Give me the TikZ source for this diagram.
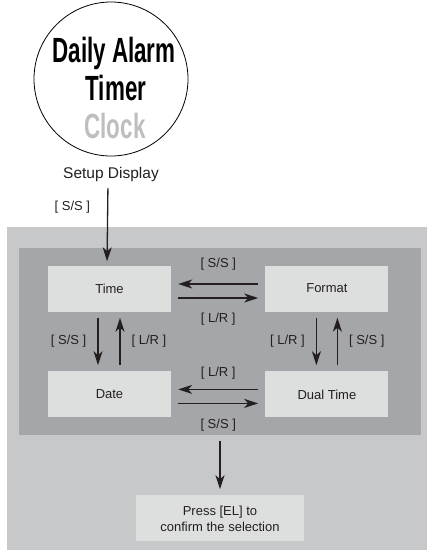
\documentclass[tikz,border=0pt]{standalone}
\usepackage{fontspec}
\setmainfont{Liberation Sans}
\newfontfamily\lcdfont{Liberation Sans}[FakeStretch=0.64]
\usepackage{tikz}
\usetikzlibrary{positioning}
\usetikzlibrary{arrows.meta}
\definecolor{outergray}{HTML}{C7C8CA}
\definecolor{panelgray}{HTML}{A4A6A9}
\definecolor{boxgray}{HTML}{DDDFDF}
\definecolor{clockgray}{HTML}{BEBEBE}
\definecolor{inkgray}{HTML}{231F20}

\begin{document}
\begin{tikzpicture}[x=1pt, y=-1pt,
    menu/.style={fill=boxgray, minimum width=123pt, minimum height=46pt, inner sep=0pt, font=\fontsize{13}{16}\selectfont, text=inkgray},
    lbl/.style={inner sep=0pt, font=\fontsize{13}{16}\selectfont, text=inkgray},
    lcd/.style={inner sep=0pt, anchor=base, font=\lcdfont\bfseries\fontsize{35}{35}\selectfont},
    arr/.style={line width=1.3pt, draw=inkgray, -{Stealth[length=14pt,width=9pt,inset=4pt]}},
    hop/.style={arr, shorten <=7pt, shorten >=7pt},
    vop/.style={arr, shorten <=6pt, shorten >=6pt}]

    \useasboundingbox (0,0) rectangle (427,550);
    \fill [outergray] (7,227) rectangle (427,550);

    \node [draw, circle, line width=0.8pt, minimum size=154pt, inner sep=0pt] (display) at (111,79) {};
    \node [lcd] (daily) at (114,62) {Daily Alarm};
    \node [lcd] (timer) at (116,100) {Timer};
    \node [lcd, text=clockgray] (clock) at (115,138) {Clock};
    \node [lbl, font=\fontsize{15.5}{17}\selectfont, below=11pt of display] (setup) {Setup Display};

    \node [fill=panelgray, minimum width=402pt, minimum height=187pt, inner sep=0pt] (panel) at (220,341.5) {};
    \node [menu] (time) at (109.5,288.5) {Time};
    \node [menu, right=94pt of time] (format) {Format};
    \node [menu, below=59.5pt of time] (date) {Date};
    \node [menu, below=59.5pt of format] (dual) {Dual Time};
    \node [menu, minimum width=168pt, align=center, below=60pt of panel] (press) {Press [EL] to\\confirm the selection};

    \draw [arr, shorten <=6pt, shorten >=4pt] ([xshift=-3pt]setup.south) -- node [lbl, pos=0.3, left=17pt] {[ S/S ]} ([xshift=-2.5pt]time.north);

    \draw [hop] ([yshift=4.5pt]format.west) -- node [lbl, above=13pt] {[ S/S ]} ([yshift=4.5pt]time.east);
    \draw [hop] ([yshift=-9.5pt]time.east) -- node [lbl, below=14pt] {[ L/R ]} ([yshift=-9.5pt]format.west);
    \draw [hop] ([yshift=5pt]dual.west) -- node [lbl, above=10pt] {[ L/R ]} ([yshift=5pt]date.east);
    \draw [hop] ([yshift=-9pt]date.east) -- node [lbl, below=15pt] {[ S/S ]} ([yshift=-9pt]dual.west);

    \draw [vop] ([xshift=-11.5pt]time.south) -- node [lbl, left=11pt] {[ S/S ]} ([xshift=-11.5pt]date.north);
    \draw [vop] ([xshift=10.5pt]date.north) -- node [lbl, right=11pt] {[ L/R ]} ([xshift=10.5pt]time.south);
    \draw [vop] ([xshift=-10.5pt]format.south) -- node [lbl, left=11pt] {[ L/R ]} ([xshift=-10.5pt]dual.north);
    \draw [vop] ([xshift=10.5pt]dual.north) -- node [lbl, right=11pt] {[ S/S ]} ([xshift=10.5pt]format.south);

    \draw [arr, shorten <=6pt, shorten >=6pt] (panel.south) -- (press.north);
\end{tikzpicture}
\end{document}
